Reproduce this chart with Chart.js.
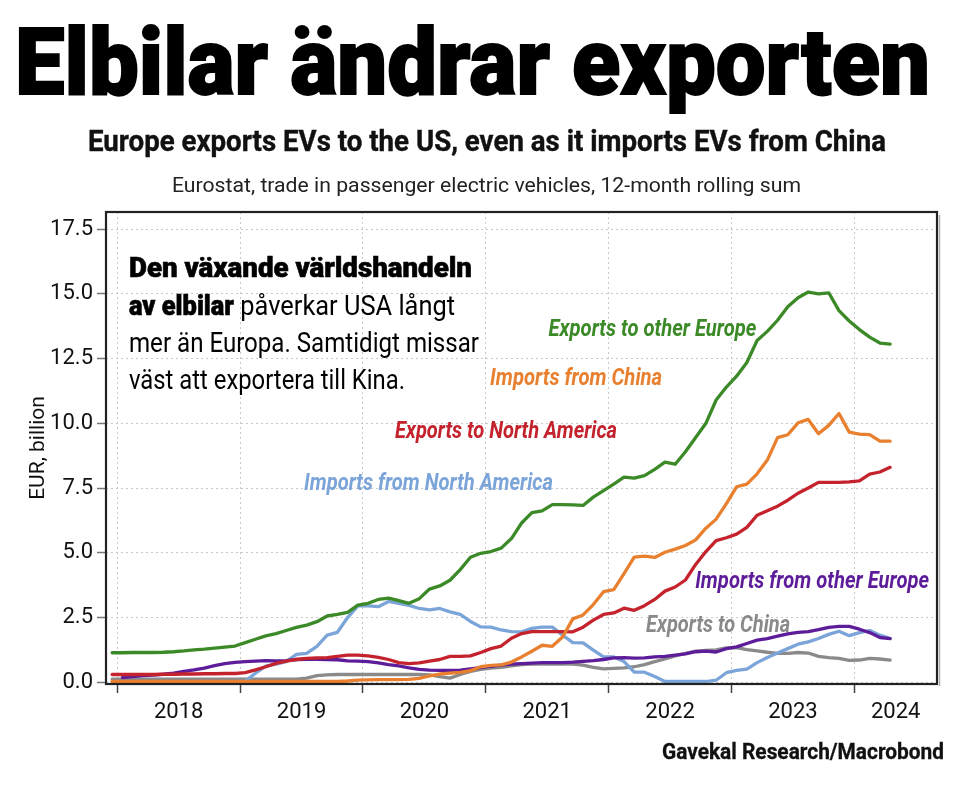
<!DOCTYPE html>
<html lang="sv">
<head>
<meta charset="utf-8">
<title>Elbilar ändrar exporten</title>
<script src="https://cdn.jsdelivr.net/npm/chart.js@4.4.1/dist/chart.umd.min.js"></script>
<style>
    html, body { margin: 0; padding: 0; background: #fff; }
    #page { position: relative; width: 978px; height: 788px; overflow: hidden; font-family: Roboto, "Noto Sans", sans-serif; color: #111; }
    #chart-box { position: absolute; left: 0; top: 0; width: 978px; height: 788px; }
    .txt { position: absolute; white-space: nowrap; line-height: 1; transform-origin: 0 0; z-index: 2; }
    #title { left: 15px; top: 17px; font-size: 92px; font-weight: 900; color: #000; -webkit-text-stroke: 1.8px #000; }
    #subtitle { left: 88px; top: 126px; font-size: 30px; font-weight: 700; color: #111; -webkit-text-stroke: 0.4px #111; }
    #caption { left: 172px; top: 175px; font-size: 21px; font-weight: 400; color: #222; }
    #source { left: 662px; top: 741px; font-size: 21.5px; font-weight: 700; color: #111; -webkit-text-stroke: 0.3px #111; }
    .note { left: 129px; font-size: 27px; font-weight: 400; color: #000; }
    .note b { font-weight: 900; -webkit-text-stroke: 0.6px #000; }
</style>
</head>
<body>
<div id="page">
    <div id="chart-box"><canvas id="timeline"></canvas></div>

    <div class="txt" id="title" data-w="915">Elbilar ändrar exporten</div>
    <div class="txt" id="subtitle" data-w="798">Europe exports EVs to the US, even as it imports EVs from China</div>
    <div class="txt" id="caption" data-w="629">Eurostat, trade in passenger electric vehicles, 12-month rolling sum</div>

    <div class="txt note" style="top:255px" data-w="343"><b>Den växande världshandeln</b></div>
    <div class="txt note" style="top:293px" data-w="326"><b>av elbilar</b> påverkar USA långt</div>
    <div class="txt note" style="top:330px" data-w="350">mer än Europa. Samtidigt missar</div>
    <div class="txt note" style="top:367px" data-w="276">väst att exportera till Kina.</div>

    <div class="txt" id="source" data-w="282">Gavekal Research/Macrobond</div>
</div>

<script>
// Months (12-month rolling sums, plotted mid-month)
const months = [
    '2017-12',
    '2018-01', '2018-02', '2018-03', '2018-04', '2018-05', '2018-06', '2018-07', '2018-08', '2018-09', '2018-10', '2018-11', '2018-12',
    '2019-01', '2019-02', '2019-03', '2019-04', '2019-05', '2019-06', '2019-07', '2019-08', '2019-09', '2019-10', '2019-11', '2019-12',
    '2020-01', '2020-02', '2020-03', '2020-04', '2020-05', '2020-06', '2020-07', '2020-08', '2020-09', '2020-10', '2020-11', '2020-12',
    '2021-01', '2021-02', '2021-03', '2021-04', '2021-05', '2021-06', '2021-07', '2021-08', '2021-09', '2021-10', '2021-11', '2021-12',
    '2022-01', '2022-02', '2022-03', '2022-04', '2022-05', '2022-06', '2022-07', '2022-08', '2022-09', '2022-10', '2022-11', '2022-12',
    '2023-01', '2023-02', '2023-03', '2023-04', '2023-05', '2023-06', '2023-07', '2023-08', '2023-09', '2023-10', '2023-11', '2023-12',
    '2024-01', '2024-02', '2024-03', '2024-04'
];

// EUR billion
const exportsOtherEurope = [
    1.14, 1.14, 1.15, 1.15, 1.15, 1.16, 1.18, 1.21, 1.25, 1.28,
    1.32, 1.36, 1.40, 1.53, 1.66, 1.79, 1.88, 2.00, 2.12, 2.21,
    2.34, 2.56, 2.62, 2.70, 2.98, 3.05, 3.20, 3.25, 3.15, 3.05,
    3.23, 3.60, 3.72, 3.94, 4.35, 4.83, 4.98, 5.05, 5.18, 5.55,
    6.15, 6.55, 6.62, 6.86, 6.86, 6.85, 6.83, 7.15, 7.40, 7.65,
    7.92, 7.88, 7.98, 8.22, 8.50, 8.42, 8.90, 9.45, 10.00, 10.90,
    11.40, 11.82, 12.35, 13.20, 13.55, 13.98, 14.50, 14.85, 15.07, 15.00,
    15.04, 14.35, 13.95, 13.62, 13.33, 13.10, 13.06
];
const importsChina = [
    0.03, 0.03, 0.03, 0.03, 0.03, 0.03, 0.03, 0.03, 0.03, 0.03,
    0.03, 0.03, 0.03, 0.03, 0.03, 0.03, 0.03, 0.03, 0.03, 0.03,
    0.03, 0.03, 0.03, 0.05, 0.08, 0.09, 0.10, 0.10, 0.10, 0.11,
    0.15, 0.25, 0.32, 0.35, 0.38, 0.45, 0.60, 0.65, 0.67, 0.78,
    0.98, 1.20, 1.43, 1.39, 1.75, 2.45, 2.60, 3.00, 3.50, 3.58,
    4.20, 4.83, 4.87, 4.82, 5.02, 5.14, 5.28, 5.50, 5.95, 6.30,
    6.90, 7.55, 7.65, 8.05, 8.58, 9.45, 9.56, 10.02, 10.15, 9.60,
    9.92, 10.38, 9.66, 9.58, 9.56, 9.31, 9.31
];
const exportsNorthAmerica = [
    0.30, 0.30, 0.30, 0.30, 0.30, 0.31, 0.31, 0.32, 0.32, 0.33,
    0.33, 0.34, 0.34, 0.37, 0.48, 0.60, 0.73, 0.82, 0.88, 0.92,
    0.94, 0.95, 1.00, 1.05, 1.05, 1.02, 0.96, 0.88, 0.76, 0.72,
    0.75, 0.82, 0.88, 1.00, 1.00, 1.02, 1.15, 1.30, 1.40, 1.70,
    1.88, 1.96, 1.96, 1.96, 1.96, 1.95, 2.13, 2.40, 2.62, 2.68,
    2.86, 2.78, 2.96, 3.20, 3.52, 3.68, 3.95, 4.55, 5.05, 5.47,
    5.58, 5.72, 5.98, 6.45, 6.62, 6.80, 7.03, 7.30, 7.50, 7.72,
    7.72, 7.72, 7.74, 7.78, 8.04, 8.12, 8.30
];
const importsNorthAmerica = [
    0.02, 0.02, 0.02, 0.02, 0.02, 0.02, 0.02, 0.02, 0.02, 0.02,
    0.02, 0.02, 0.02, 0.05, 0.35, 0.62, 0.70, 0.80, 1.08, 1.12,
    1.39, 1.82, 1.93, 2.50, 2.95, 2.95, 2.92, 3.12, 3.05, 2.97,
    2.85, 2.80, 2.85, 2.72, 2.62, 2.35, 2.14, 2.13, 2.02, 1.96,
    1.95, 2.08, 2.13, 2.13, 1.82, 1.53, 1.52, 1.24, 0.98, 0.98,
    0.80, 0.39, 0.39, 0.22, 0.03, 0.03, 0.03, 0.03, 0.03, 0.08,
    0.37, 0.46, 0.51, 0.76, 0.96, 1.13, 1.30, 1.47, 1.56, 1.69,
    1.85, 1.97, 1.80, 1.92, 2.00, 1.82, 1.69
];
const importsOtherEurope = [
    null, 0.18, 0.22, 0.26, 0.28, 0.31, 0.35, 0.42, 0.48, 0.55,
    0.64, 0.72, 0.77, 0.80, 0.82, 0.84, 0.83, 0.84, 0.88, 0.89,
    0.89, 0.88, 0.87, 0.83, 0.82, 0.80, 0.75, 0.68, 0.63, 0.56,
    0.50, 0.47, 0.46, 0.46, 0.47, 0.52, 0.57, 0.62, 0.66, 0.70,
    0.72, 0.74, 0.76, 0.76, 0.76, 0.78, 0.81, 0.84, 0.88, 0.94,
    0.95, 0.93, 0.94, 0.98, 1.00, 1.05, 1.10, 1.18, 1.20, 1.17,
    1.30, 1.37, 1.50, 1.63, 1.69, 1.78, 1.87, 1.93, 1.96, 2.03,
    2.12, 2.16, 2.16, 2.05, 1.92, 1.73, 1.69
];
const exportsChina = [
    0.12, 0.12, 0.12, 0.12, 0.12, 0.12, 0.12, 0.12, 0.12, 0.12,
    0.12, 0.12, 0.12, 0.12, 0.12, 0.12, 0.12, 0.12, 0.12, 0.16,
    0.26, 0.29, 0.30, 0.30, 0.30, 0.30, 0.30, 0.30, 0.30, 0.30,
    0.30, 0.29, 0.22, 0.16, 0.30, 0.42, 0.50, 0.55, 0.58, 0.63,
    0.68, 0.70, 0.70, 0.70, 0.70, 0.70, 0.66, 0.58, 0.52, 0.54,
    0.56, 0.60, 0.68, 0.80, 0.90, 1.02, 1.12, 1.20, 1.23, 1.25,
    1.33, 1.34, 1.26, 1.21, 1.16, 1.12, 1.12, 1.15, 1.13, 1.00,
    0.95, 0.92, 0.85, 0.86, 0.92, 0.90, 0.86
];

// Axis ticks
const yTickValues = [0, 2.5, 5, 7.5, 10, 12.5, 15, 17.5];
const yearTicks = [2018, 2019, 2020, 2021, 2022, 2023, 2024];
const yearLabels = ['2018', '2019', '2020', '2021', '2022', '2023', '2024'];

// Axis range (decimal years / EUR bn)
const xMin = 2017.908;
const xMax = 2024.673;
const yMin = -0.066;
const yMax = 18.16;

// Series styling, listed top layer first
const seriesInfo = [
    { label: 'Exports to other Europe', data: exportsOtherEurope, color: '#3b8a27' },
    { label: 'Imports from China', data: importsChina, color: '#e8802f' },
    { label: 'Exports to North America', data: exportsNorthAmerica, color: '#c4222c' },
    { label: 'Imports from other Europe', data: importsOtherEurope, color: '#5d1d9a' },
    { label: 'Imports from North America', data: importsNorthAmerica, color: '#7ba4d8' },
    { label: 'Exports to China', data: exportsChina, color: '#8a8a8a' }
];

// In-chart series labels: anchor (left edge, baseline) in data units, target width in px
const labelAnchors = [
    { text: 'Exports to other Europe', x: 2021.51, y: 13.37, w: 208, color: '#3b8a27' },
    { text: 'Imports from China', x: 2021.035, y: 11.49, w: 172, color: '#e8802f' },
    { text: 'Exports to North America', x: 2020.261, y: 9.44, w: 222, color: '#c4222c' },
    { text: 'Imports from North America', x: 2019.52, y: 7.42, w: 249, color: '#7ba4d8' },
    { text: 'Imports from other Europe', x: 2022.704, y: 3.63, w: 234, color: '#5d1d9a' },
    { text: 'Exports to China', x: 2022.305, y: 1.95, w: 144, color: '#8a8a8a' }
];

// Mid-month decimal year
const monthToX = (m) => {
    const [yr, mo] = m.split('-').map(Number);
    return yr + (mo - 0.5) / 12;
};

// Squeeze HTML text to the reference widths
const fitText = () => {
    document.querySelectorAll('.txt[data-w]').forEach(el => {
        el.style.transform = 'none';
        const w = el.getBoundingClientRect().width;
        el.style.transform = `scaleX(${el.dataset.w / w})`;
    });
};

const seriesLabelPlugin = {
    id: 'seriesLabels',
    afterDatasetsDraw(chart) {
        const { ctx, scales: { x, y } } = chart;
        ctx.save();
        ctx.font = 'italic 700 23px Roboto, "Noto Sans", sans-serif';
        ctx.textBaseline = 'alphabetic';
        ctx.textAlign = 'left';
        labelAnchors.forEach(l => {
            const px = x.getPixelForValue(l.x);
            const py = y.getPixelForValue(l.y);
            const m = ctx.measureText(l.text).width;
            ctx.save();
            ctx.translate(px, py);
            ctx.scale(l.w / m, 1);
            ctx.fillStyle = l.color;
            ctx.fillText(l.text, 0, 0);
            ctx.restore();
        });
        ctx.restore();
    }
};

const framePlugin = {
    id: 'frame',
    afterDraw(chart) {
        const { ctx, chartArea: a } = chart;
        ctx.save();
        // soft shadow on right edge
        ctx.strokeStyle = '#b0b0b0';
        ctx.lineWidth = 1.5;
        ctx.beginPath();
        ctx.moveTo(a.right + 2.5, a.top + 3);
        ctx.lineTo(a.right + 2.5, a.bottom + 2);
        ctx.stroke();
        ctx.strokeStyle = '#222';
        ctx.lineWidth = 2.2;
        ctx.strokeRect(a.left, a.top, a.right - a.left, a.bottom - a.top);
        ctx.restore();
    }
};

const timeline = () => {
    const datasets = seriesInfo.map(s => ({
        label: s.label,
        data: months.map((m, i) => ({ x: monthToX(m), y: s.data[i] })),
        borderColor: s.color,
        backgroundColor: s.color,
        borderWidth: 3.3,
        pointRadius: 0,
        tension: 0,
        spanGaps: false,
        borderJoinStyle: 'round',
        borderCapStyle: 'round'
    }));

    const chartconfig = {
        type: 'line',
        data: { datasets: datasets },
        options: {
            responsive: true,
            maintainAspectRatio: false,
            animation: false,
            layout: { padding: { left: 26, right: 41, top: 212, bottom: 54 } },
            scales: {
                x: {
                    type: 'linear',
                    min: xMin,
                    max: xMax,
                    afterBuildTicks: (scale) => {
                        const ticks = [];
                        yearTicks.forEach((yr, i) => {
                            ticks.push({ value: yr });
                            const end = Math.min(yr + 1, xMax);
                            ticks.push({ value: (yr + end) / 2, name: yearLabels[i] });
                        });
                        scale.ticks = ticks;
                    },
                    afterFit: (scale) => { scale.height = 50; },
                    grid: {
                        color: (c) => (c.tick && c.tick.name) ? 'transparent' : '#c9c9c9',
                        lineWidth: 1,
                        drawTicks: true,
                        tickLength: 9,
                        tickColor: (c) => (c.tick && c.tick.name) ? 'transparent' : '#444',
                        tickWidth: 1.5,
                        tickBorderDash: []
                    },
                    border: { display: false, dash: [2, 3] },
                    ticks: {
                        autoSkip: false,
                        maxRotation: 0,
                        padding: 6,
                        color: '#111',
                        font: { size: 22, family: 'Roboto' },
                        callback: (value, i, ticks) => ticks[i].name || ''
                    }
                },
                y: {
                    min: yMin,
                    max: yMax,
                    afterBuildTicks: (scale) => {
                        scale.ticks = yTickValues.map(v => ({ value: v }));
                    },
                    afterFit: (scale) => { scale.width = 80; },
                    grid: {
                        color: '#c9c9c9',
                        lineWidth: 1,
                        drawTicks: true,
                        tickLength: 9,
                        tickColor: '#777',
                        tickWidth: 1.5,
                        tickBorderDash: []
                    },
                    border: { display: false, dash: [2, 3] },
                    ticks: {
                        padding: 4,
                        color: '#111',
                        font: { size: 22, family: 'Roboto' },
                        callback: (value) => Number(value).toFixed(1)
                    },
                    title: {
                        display: true,
                        text: 'EUR, billion',
                        color: '#111',
                        font: { size: 21, family: 'Roboto' },
                        padding: { top: 0, bottom: 0 }
                    }
                }
            },
            plugins: {
                legend: { display: false },
                tooltip: { enabled: false },
                title: { display: false }
            }
        },
        plugins: [seriesLabelPlugin, framePlugin]
    };

    const canvas = document.getElementById('timeline');
    if (canvas) {
        new Chart(canvas, chartconfig);
    } else {
        console.error('Canvas element with ID "timeline" not found');
    }
};

fitText();
timeline();
</script>
</body>
</html>
